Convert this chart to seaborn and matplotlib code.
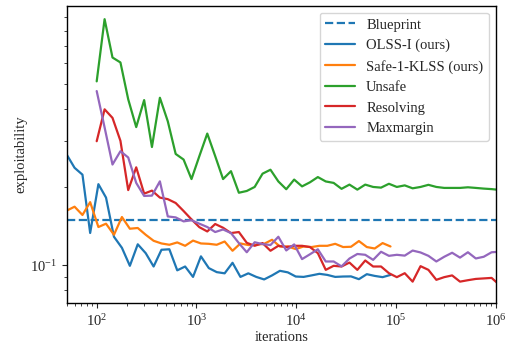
import numpy as np
import pandas as pd
import matplotlib
matplotlib.use("Agg")
import matplotlib.pyplot as plt
import seaborn as sns

# iteration grids (geometric schedule, ratio 1.2)
iters_short = np.round(50 * 1.2 ** np.arange(42)).astype(int)
iters_long = np.round(100 * 1.2 ** np.arange(52)).astype(int)

blueprint = 0.1496

olss_i = [0.2666, 0.237, 0.223, 0.133, 0.205, 0.182, 0.1286, 0.1166, 0.0994, 0.1203,
          0.1112, 0.0988, 0.1146, 0.1151, 0.0955, 0.0988, 0.0901, 0.1081, 0.0974, 0.094,
          0.093, 0.1021, 0.0901, 0.093, 0.0901, 0.0881, 0.0913, 0.0951, 0.0938, 0.0904,
          0.0901, 0.0913, 0.0926, 0.0917, 0.0901, 0.0904, 0.0905, 0.0883, 0.0923, 0.0909,
          0.0899, 0.0917]

safe_klss = [0.1621, 0.1679, 0.156, 0.1748, 0.1402, 0.1444, 0.1309, 0.1532, 0.1381, 0.139,
             0.1309, 0.1241, 0.1212, 0.1198, 0.1223, 0.1187, 0.1243, 0.1212, 0.1208, 0.1198,
             0.1233, 0.1136, 0.1212, 0.1195, 0.1198, 0.1208, 0.1252, 0.118, 0.118, 0.1153,
             0.118, 0.1174, 0.1187, 0.1187, 0.1208, 0.1174, 0.1177, 0.1238, 0.1174, 0.1159,
             0.1216, 0.118]

unsafe = [0.510, 0.885, 0.630, 0.603, 0.435, 0.340, 0.432, 0.285, 0.441, 0.358,
          0.268, 0.255, 0.2145, 0.263, 0.321, 0.263, 0.2145, 0.230, 0.190, 0.193,
          0.200, 0.225, 0.233, 0.210, 0.196, 0.2135, 0.201, 0.2084, 0.2183, 0.210,
          0.2073, 0.1967, 0.2042, 0.1953, 0.2042, 0.200, 0.1988, 0.2057, 0.200, 0.2028,
          0.1976, 0.200, 0.2038, 0.200, 0.1983, 0.1983, 0.1983, 0.1994, 0.1983, 0.1971,
          0.1962, 0.1948]

resolving = [0.300, 0.398, 0.369, 0.301, 0.1945, 0.238, 0.1885, 0.1936, 0.182, 0.1795,
             0.1735, 0.1616, 0.150, 0.140, 0.1348, 0.144, 0.1393, 0.1329, 0.1341, 0.1219,
             0.1187, 0.1216, 0.1136, 0.1187, 0.1174, 0.1187, 0.1187, 0.1174, 0.1112, 0.0959,
             0.0994, 0.0988, 0.1023, 0.0959, 0.1042, 0.0988, 0.0988, 0.0931, 0.0899, 0.0931,
             0.0864, 0.0991, 0.0959, 0.0878, 0.0899, 0.0913, 0.0864, 0.0875, 0.0885, 0.0889,
             0.0893, 0.0839]

maxmargin = [0.468, 0.339, 0.244, 0.2746, 0.2597, 0.2073, 0.1847, 0.1852, 0.2102, 0.154,
             0.1527, 0.1474, 0.1489, 0.1444, 0.1402, 0.1341, 0.1372, 0.1329, 0.1216, 0.1121,
             0.1225, 0.1205, 0.1195, 0.1286, 0.1139, 0.1202, 0.1055, 0.1101, 0.1151, 0.1033,
             0.1033, 0.0989, 0.106, 0.1104, 0.1096, 0.1048, 0.1126, 0.1086, 0.1096, 0.1088,
             0.1138, 0.1119, 0.1086, 0.1033, 0.1077, 0.1116, 0.1069, 0.1121, 0.1061, 0.1077,
             0.1121, 0.1126]

series = [
    ("OLSS-I (ours)", iters_short, olss_i),
    ("Safe-1-KLSS (ours)", iters_short, safe_klss),
    ("Unsafe", iters_long, unsafe),
    ("Resolving", iters_long, resolving),
    ("Maxmargin", iters_long, maxmargin),
]

sns.set_style("ticks")
plt.rcParams["font.family"] = ["Liberation Serif", "DejaVu Serif"]
plt.rcParams["mathtext.fontset"] = "stix"
plt.rcParams["font.size"] = 10.5

colors = sns.color_palette("tab10")

fig = plt.figure(figsize=(5.07, 3.51), dpi=100)
ax = fig.add_axes([0.1315, 0.1368, 0.8462, 0.8462])

ax.axhline(blueprint, color=colors[0], linestyle="--", linewidth=1.6, label="Blueprint")
for i, (name, xs, ys) in enumerate(series):
    df = pd.DataFrame({"iterations": xs, "exploitability": ys})
    sns.lineplot(data=df, x="iterations", y="exploitability", ax=ax,
                 color=colors[i], linewidth=1.6, label=name)

ax.set_xscale("log")
ax.set_yscale("log")
ax.set_xlim(50, 1e6)
ax.set_ylim(0.0715, 0.995)
ax.set_xlabel("iterations", fontsize=10.5, labelpad=2)
ax.set_ylabel("exploitability", fontsize=10.5, labelpad=2)
for s in ax.spines.values():
    s.set_visible(True)
    s.set_color("black")
    s.set_linewidth(1.0)
ax.tick_params(labelsize=10.5)
ax.legend(loc="upper right", fontsize=10.5, frameon=True, fancybox=True,
          edgecolor="#cccccc", framealpha=0.8, borderaxespad=0.45)

fig.savefig("out.png", dpi=100)
